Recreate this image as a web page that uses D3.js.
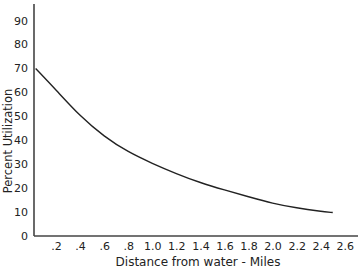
<!DOCTYPE html>
<html>
<head>
<meta charset="utf-8">
<script src="https://cdn.jsdelivr.net/npm/d3@7"></script>
<style>
  body { margin: 0; background: #fff; }
  svg { display: block; }
  .tick text { font-family: "DejaVu Sans", Verdana, sans-serif; fill: #222; }
</style>
</head>
<body>
<svg width="360" height="270"></svg>
<script>
// values
const distance = [0.03, 0.2, 0.4, 0.6, 0.8, 1.0, 1.2, 1.4, 1.6, 1.8, 2.0, 2.2, 2.4, 2.5];
const utilization = [70, 61, 50, 41.5, 35, 30.3, 26, 22.2, 19.2, 16.4, 13.6, 11.7, 10.3, 9.8];
const xTicks = [0.2, 0.4, 0.6, 0.8, 1.0, 1.2, 1.4, 1.6, 1.8, 2.0, 2.2, 2.4, 2.6];
const yTicks = [0, 10, 20, 30, 40, 50, 60, 70, 80, 90];

const svg = d3.select('svg');

const axisX = 34;
const axisY = 236;

const xScale = d3.scaleLinear().domain([0, 2.71]).range([32, 358]);
const yScale = d3.scaleLinear().domain([0, 96.9]).range([axisY, 4]);

let data = distance.map((d, i) => ({ x: d, y: utilization[i] }));

// x axis
let xAxis = d3.axisBottom(xScale)
  .tickValues(xTicks)
  .tickSize(0)
  .tickPadding(6)
  .tickFormat(d => d < 1 ? d3.format('.1f')(d).replace(/^0/, '') : d3.format('.1f')(d));

let gx = svg.append('g')
  .attr('transform', 'translate(0,' + axisY + ')')
  .call(xAxis);
gx.select('.domain').remove();
gx.selectAll('text').style('font-size', '11px');

// y axis
let yAxis = d3.axisLeft(yScale)
  .tickValues(yTicks)
  .tickSize(0)
  .tickPadding(6);

let gy = svg.append('g')
  .attr('transform', 'translate(' + axisX + ',0)')
  .call(yAxis);
gy.select('.domain').remove();
gy.selectAll('text').style('font-size', '11px');

// axis lines
svg.append('line')
  .attr('x1', axisX).attr('x2', axisX)
  .attr('y1', yScale.range()[1]).attr('y2', axisY)
  .attr('stroke', '#444').attr('stroke-width', 1.6);

svg.append('line')
  .attr('x1', axisX).attr('x2', xScale.range()[1])
  .attr('y1', axisY).attr('y2', axisY)
  .attr('stroke', '#444').attr('stroke-width', 1.6);

// curve
const line = d3.line()
  .x(d => xScale(d.x))
  .y(d => yScale(d.y))
  .curve(d3.curveBasis);

svg.append('path')
  .datum(data)
  .attr('d', line)
  .attr('fill', 'none')
  .attr('stroke', '#222')
  .attr('stroke-width', 1.4);

// axis titles
svg.append('text')
  .attr('x', 198)
  .attr('y', 266)
  .attr('text-anchor', 'middle')
  .style('font-family', '"DejaVu Sans", Verdana, sans-serif')
  .style('font-size', '12px')
  .style('fill', '#222')
  .text('Distance from water - Miles');

svg.append('text')
  .attr('transform', 'translate(12,141) rotate(-90)')
  .attr('text-anchor', 'middle')
  .style('font-family', '"DejaVu Sans", Verdana, sans-serif')
  .style('font-size', '11.5px')
  .style('fill', '#222')
  .text('Percent Utilization');
</script>
</body>
</html>
